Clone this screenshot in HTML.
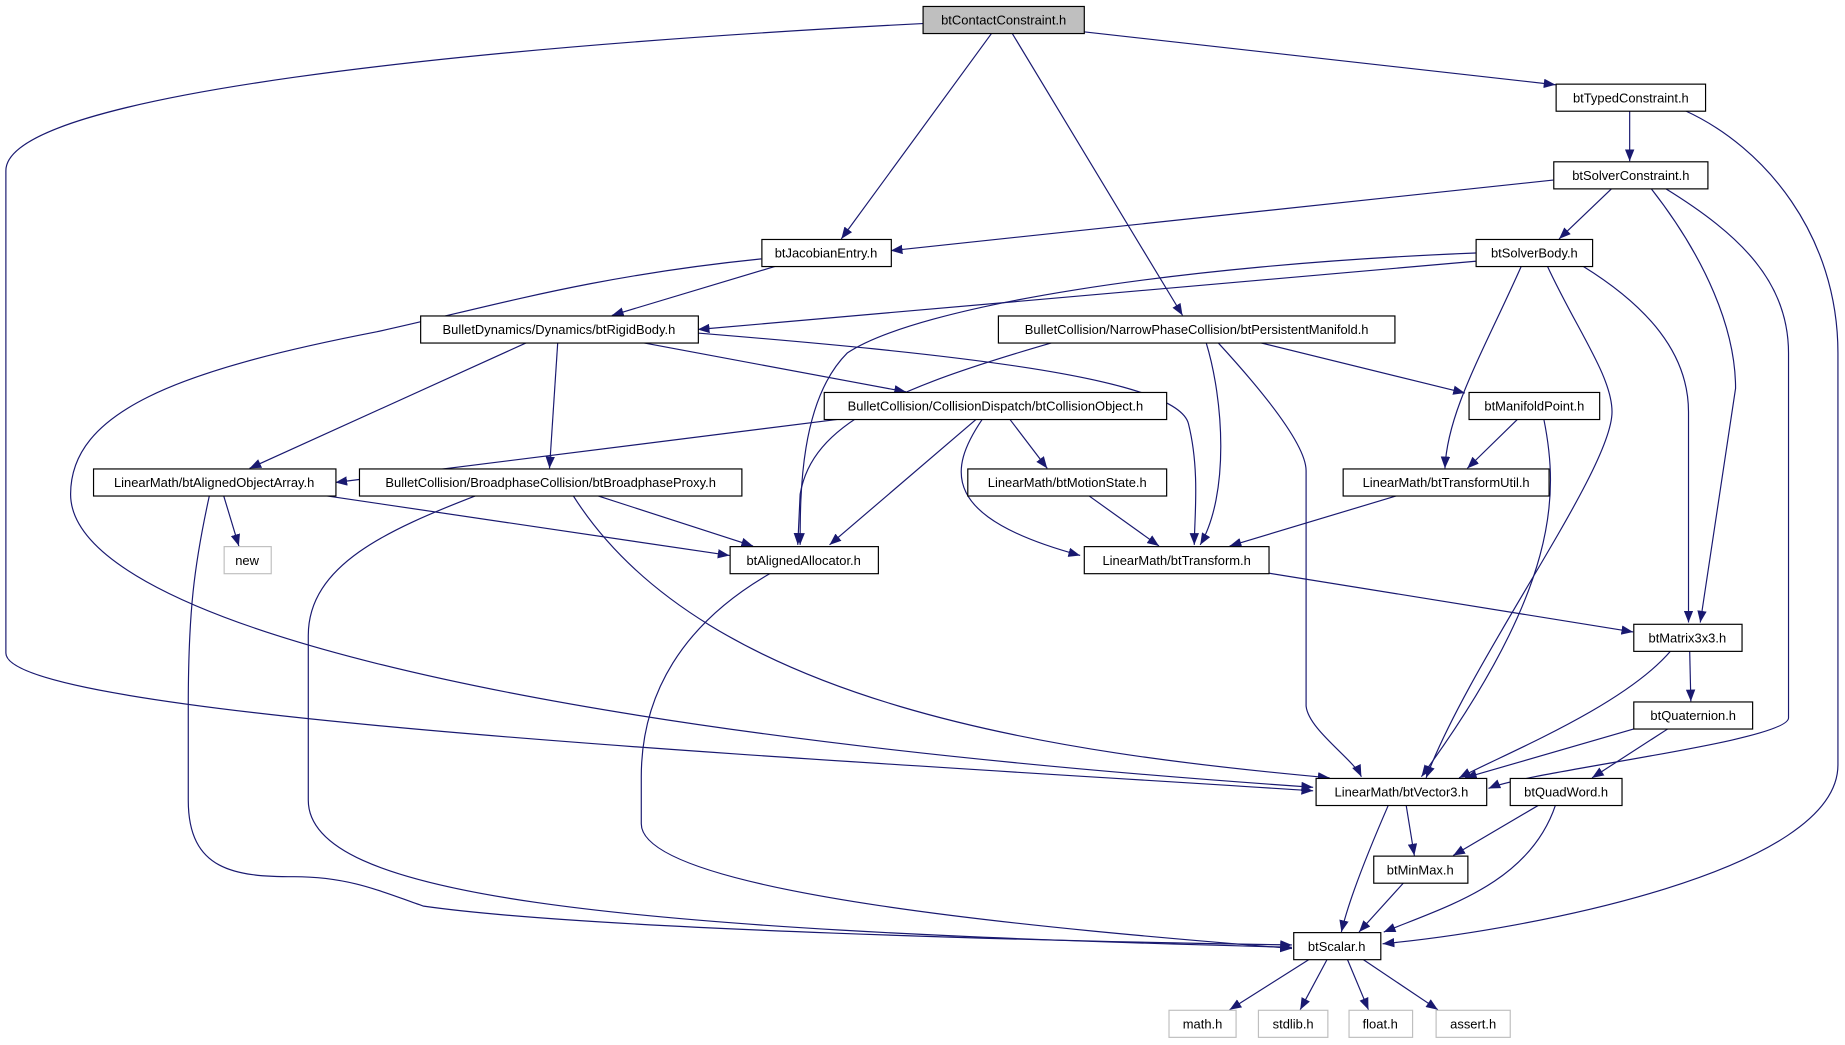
<!DOCTYPE html>
<html><head><meta charset="utf-8"><style>
html,body{margin:0;padding:0;background:#fff;width:1845px;height:1045px;overflow:hidden}
svg{display:block}
text{font-family:"Liberation Sans",sans-serif;font-size:11px;fill:#000}
.e{fill:none;stroke:#191970;stroke-width:1}
</style></head><body>
<svg width="1845" height="1045" viewBox="0 0 1568 888" preserveAspectRatio="none">
<defs><marker id="a" markerWidth="10" markerHeight="8" refX="10" refY="4" orient="auto" markerUnits="userSpaceOnUse"><path d="M0,0 L10,4 L0,8 z" fill="#191970"/></marker></defs>
<g marker-end="url(#a)">
<path class="e" d="M784,20 C400,40 5,80 5,145 L5,555 C5,610 700,645 1116,672"/>
<path class="e" d="M843,28 L715,203"/>
<path class="e" d="M860,28 L1005,268"/>
<path class="e" d="M921,27 L1322,72"/>
<path class="e" d="M1385,94 L1385,137"/>
<path class="e" d="M1432,94 C1500,125 1562,200 1562,300 L1562,650 C1562,740 1300,790 1175,802"/>
<path class="e" d="M1320,153 L757,213"/>
<path class="e" d="M1370,160 L1325,203"/>
<path class="e" d="M1403,160 C1450,220 1475,280 1475,330 L1445,529"/>
<path class="e" d="M1415,160 C1480,200 1520,240 1520,300 L1520,610 C1520,630 1300,655 1265,670"/>
<path class="e" d="M647,220 C500,235 420,260 320,282 C150,315 60,350 60,420 C60,520 400,620 1116,669"/>
<path class="e" d="M660,226 L520,268"/>
<path class="e" d="M1254,222 L593,280"/>
<path class="e" d="M1254,215 C1000,225 780,260 720,300 C680,340 680,420 680,463"/>
<path class="e" d="M1293,226 C1260,300 1230,350 1228,398"/>
<path class="e" d="M1315,226 C1340,280 1370,320 1370,350 C1370,400 1250,560 1212,661"/>
<path class="e" d="M1345,226 C1400,260 1435,300 1435,350 L1435,529"/>
<path class="e" d="M448,291 L212,398"/>
<path class="e" d="M474,291 L467,398"/>
<path class="e" d="M545,291 L770,333"/>
<path class="e" d="M593,283 C800,300 1000,320 1010,360 C1020,400 1015,440 1015,463"/>
<path class="e" d="M895,291 C760,330 690,360 680,420 L678,463"/>
<path class="e" d="M1025,291 C1040,340 1045,420 1020,463"/>
<path class="e" d="M1035,291 C1080,340 1110,380 1110,400 L1110,600 C1112,620 1150,645 1157,660"/>
<path class="e" d="M1070,291 L1245,334"/>
<path class="e" d="M715,356 L285,410"/>
<path class="e" d="M830,356 L705,463"/>
<path class="e" d="M835,356 C805,400 800,440 918,472"/>
<path class="e" d="M858,356 L890,398"/>
<path class="e" d="M1290,356 L1247,398"/>
<path class="e" d="M1312,356 C1325,420 1325,500 1208,660"/>
<path class="e" d="M178,421 C165,480 160,520 160,600 L160,680 C160,740 200,745 250,745 C300,745 330,760 360,770 C500,790 900,800 1098,803"/>
<path class="e" d="M190,421 L203,464"/>
<path class="e" d="M275,421 L620,472"/>
<path class="e" d="M405,421 C330,450 262,480 262,540 L262,680 C262,760 500,790 1098,805"/>
<path class="e" d="M487,421 C600,600 900,640 1130,661"/>
<path class="e" d="M507,421 L640,464"/>
<path class="e" d="M655,487 C580,530 545,590 545,660 L545,700 C545,760 900,790 1098,806"/>
<path class="e" d="M925,421 L985,464"/>
<path class="e" d="M1188,421 L1045,464"/>
<path class="e" d="M1078,487 L1388,537"/>
<path class="e" d="M1420,553 C1380,600 1280,640 1240,661"/>
<path class="e" d="M1436,553 L1437,596"/>
<path class="e" d="M1390,619 L1245,661"/>
<path class="e" d="M1418,619 L1353,661"/>
<path class="e" d="M1180,684 C1160,730 1145,770 1140,792"/>
<path class="e" d="M1195,684 L1202,727"/>
<path class="e" d="M1308,684 L1235,727"/>
<path class="e" d="M1322,684 C1300,750 1230,770 1176,792"/>
<path class="e" d="M1193,750 L1155,792"/>
<path class="e" d="M1113,815 L1045,858"/>
<path class="e" d="M1128,815 L1105,858"/>
<path class="e" d="M1145,815 L1163,858"/>
<path class="e" d="M1158,815 L1222,858"/>
</g>
<g stroke="#000" stroke-width="1" fill="#fff">
<rect x="784.5" y="5.5" width="137" height="23" fill="#bfbfbf"/>
<rect x="1322.5" y="71.5" width="127" height="23"/>
<rect x="1320.5" y="137.5" width="131" height="23"/>
<rect x="647.5" y="203.5" width="110" height="23"/>
<rect x="1254.5" y="203.5" width="99" height="23"/>
<rect x="357.5" y="268.5" width="236" height="23"/>
<rect x="848.5" y="268.5" width="337" height="23"/>
<rect x="700.5" y="333.5" width="291" height="23"/>
<rect x="1248.5" y="333.5" width="111" height="23"/>
<rect x="79.5" y="398.5" width="206" height="23"/>
<rect x="305.5" y="398.5" width="325" height="23"/>
<rect x="822.5" y="398.5" width="169" height="23"/>
<rect x="1141.5" y="398.5" width="175" height="23"/>
<rect x="620.5" y="464.5" width="126" height="23"/>
<rect x="921.5" y="464.5" width="157" height="23"/>
<rect x="1388.5" y="530.5" width="92" height="23"/>
<rect x="1388.5" y="596.5" width="101" height="23"/>
<rect x="1118.5" y="661.5" width="145" height="23"/>
<rect x="1283.5" y="661.5" width="95" height="23"/>
<rect x="1167.5" y="727.5" width="80" height="23"/>
<rect x="1099.5" y="792.5" width="74" height="23"/>
</g>
<g stroke="#bfbfbf" stroke-width="1" fill="#fff">
<rect x="190.5" y="464.5" width="40" height="23"/>
<rect x="993.5" y="858.5" width="57" height="23"/>
<rect x="1069.5" y="858.5" width="59" height="23"/>
<rect x="1146.5" y="858.5" width="54" height="23"/>
<rect x="1220.5" y="858.5" width="63" height="23"/>
</g>
<g text-anchor="middle">
<text x="853" y="21">btContactConstraint.h</text>
<text x="1386" y="87">btTypedConstraint.h</text>
<text x="1386" y="153">btSolverConstraint.h</text>
<text x="702" y="219">btJacobianEntry.h</text>
<text x="1304" y="219">btSolverBody.h</text>
<text x="475" y="284">BulletDynamics/Dynamics/btRigidBody.h</text>
<text x="1017" y="284">BulletCollision/NarrowPhaseCollision/btPersistentManifold.h</text>
<text x="846" y="349">BulletCollision/CollisionDispatch/btCollisionObject.h</text>
<text x="1304" y="349">btManifoldPoint.h</text>
<text x="182" y="414">LinearMath/btAlignedObjectArray.h</text>
<text x="468" y="414">BulletCollision/BroadphaseCollision/btBroadphaseProxy.h</text>
<text x="907" y="414">LinearMath/btMotionState.h</text>
<text x="1229" y="414">LinearMath/btTransformUtil.h</text>
<text x="210" y="480">new</text>
<text x="683" y="480">btAlignedAllocator.h</text>
<text x="1000" y="480">LinearMath/btTransform.h</text>
<text x="1434" y="546">btMatrix3x3.h</text>
<text x="1439" y="612">btQuaternion.h</text>
<text x="1191" y="677">LinearMath/btVector3.h</text>
<text x="1331" y="677">btQuadWord.h</text>
<text x="1207" y="743">btMinMax.h</text>
<text x="1136" y="808">btScalar.h</text>
<text x="1022" y="874">math.h</text>
<text x="1099" y="874">stdlib.h</text>
<text x="1173" y="874">float.h</text>
<text x="1252" y="874">assert.h</text>
</g>
</svg>
</body></html>
